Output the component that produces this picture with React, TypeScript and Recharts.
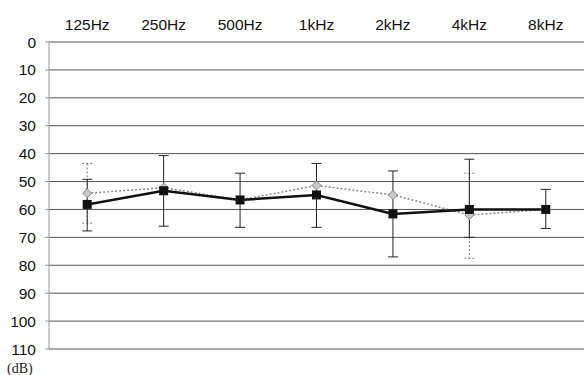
import React from 'react';
import { ComposedChart, Line, XAxis, YAxis, CartesianGrid, ErrorBar } from 'recharts';

const freqs = ['125Hz', '250Hz', '500Hz', '1kHz', '2kHz', '4kHz', '8kHz'];
const meanA = [58.2, 53.3, 56.6, 54.8, 61.6, 60, 60];
const errA = [[9.0, 9.5], [12.6, 12.7], [9.6, 9.8], [11.3, 11.6], [15.4, 15.4], [18, 10], [7.2, 6.8]];
const meanB = [54.2, 52.2, 56.6, 51.4, 54.8, 62, 60];
const errB = [[10.7, 10.7], [0, 0], [0, 0], [0, 0], [0, 0], [15, 15.5], [0, 0]];
const yTicks = [0, 10, 20, 30, 40, 50, 60, 70, 80, 90, 100, 110];

const data = freqs.map((f, i) => ({ f, a: meanA[i], ea: errA[i], b: meanB[i], eb: errB[i] }));

const Square = (props: any) => {
  const { cx, cy } = props;
  if (cx == null || cy == null) return null;
  return <rect x={cx - 4.5} y={cy - 4.5} width={9} height={9} fill="#111" />;
};

const Diamond = (props: any) => {
  const { cx, cy } = props;
  if (cx == null || cy == null) return null;
  return (
    <polygon
      points={`${cx},${cy - 4.5} ${cx + 4.5},${cy} ${cx},${cy + 4.5} ${cx - 4.5},${cy}`}
      fill="#c8c8c8"
      stroke="#888"
      strokeWidth={1}
    />
  );
};

export default function App() {
  return (
    <div style={{ position: 'absolute', left: 0, top: 0, width: 584, height: 375, background: '#fff' }}>
      <ComposedChart
        width={584}
        height={375}
        data={data}
        margin={{ top: 12, right: 0, bottom: 26, left: 0 }}
        style={{ fontFamily: 'Liberation Sans, Arial, sans-serif' }}
      >
        <CartesianGrid vertical={false} stroke="#555" strokeWidth={1} />
        <XAxis
          dataKey="f"
          orientation="top"
          scale="band"
          height={30}
          axisLine={false}
          tickLine={false}
          tickMargin={6}
          tick={{ fontSize: 15.5, fill: '#111' }}
          interval={0}
        />
        <YAxis
          reversed
          domain={[0, 110]}
          ticks={yTicks}
          width={49}
          interval={0}
          axisLine={{ stroke: '#999' }}
          tickLine={{ stroke: '#999' }}
          tickSize={4}
          tickMargin={9}
          tick={{ fontSize: 15.5, fill: '#111' }}
        />
        <Line
          dataKey="b"
          stroke="#888"
          strokeWidth={1.5}
          strokeDasharray="2 2"
          dot={<Diamond />}
          isAnimationActive={false}
        >
          <ErrorBar dataKey="eb" width={5} stroke="#777" strokeWidth={1} strokeDasharray="2 2" />
        </Line>
        <Line
          dataKey="a"
          stroke="#111"
          strokeWidth={2.5}
          dot={<Square />}
          isAnimationActive={false}
        >
          <ErrorBar dataKey="ea" width={5} stroke="#222" strokeWidth={1} />
        </Line>
      </ComposedChart>
      <div style={{ position: 'absolute', left: 7, top: 361, fontFamily: 'Liberation Serif, serif', fontSize: 14, color: '#222' }}>
        (dB)
      </div>
    </div>
  );
}
